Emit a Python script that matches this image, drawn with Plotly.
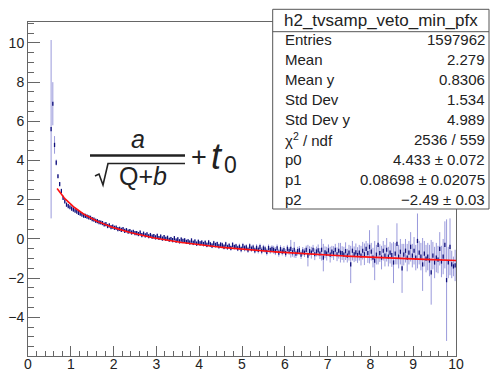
import numpy as np
import plotly.graph_objects as go

# ---------------- data ----------------
BIN_FIRST = 0.54      # first bin centre
BIN_WIDTH = 0.04
Y_VALUES = [
    5.6, 6.9, 4.8, 3.9, 3.2, 2.8, 2.45, 2.1, 1.92, 1.75,
    1.68, 1.62, 1.55, 1.50, 1.44, 1.39, 1.33, 1.29, 1.24, 1.19,
    1.18, 1.14, 1.10, 1.08, 1.01, 0.99, 0.93, 0.91, 0.86, 0.84,
    0.81, 0.74, 0.76, 0.66, 0.69, 0.60, 0.63, 0.57, 0.58, 0.50,
    0.52, 0.46, 0.50, 0.41, 0.45, 0.38, 0.40, 0.33, 0.36, 0.30,
    0.30, 0.25, 0.33, 0.20, 0.27, 0.18, 0.24, 0.14, 0.20, 0.12,
    0.15, 0.08, 0.16, 0.05, 0.12, 0.02, 0.10, 0.01, 0.06, -0.04,
    0.00, -0.06, 0.04, -0.08, -0.02, -0.12, -0.03, -0.10, -0.07, -0.15,
    -0.12, -0.18, -0.08, -0.20, -0.13, -0.24, -0.15, -0.22, -0.18, -0.26,
    -0.20, -0.30, -0.18, -0.28, -0.34, -0.22, -0.31, -0.26, -0.37, -0.29,
    -0.32, -0.40, -0.28, -0.42, -0.35, -0.46, -0.30, -0.41, -0.38, -0.48,
    -0.40, -0.52, -0.36, -0.47, -0.43, -0.55, -0.38, -0.50, -0.44, -0.58,
    -0.45, -0.56, -0.42, -0.60, -0.48, -0.53, -0.66, -0.46, -0.57, -0.50,
    -0.55, -0.62, -0.48, -0.70, -0.52, -0.64, -0.57, -0.72, -0.50, -0.61,
    -0.50, -0.68, -0.55, -0.75, -0.62, -0.58, -0.80, -0.63, -0.70, -0.56,
    -0.85, -0.62, -0.70, -0.55, -0.78, -0.64, -0.58, -0.74, -0.55, -0.95,
    -0.68, -0.75, -0.58, -0.80, -0.65, -0.72, -0.55, -0.78, -0.60, -0.70,
    -0.72, -0.80, -0.62, -0.85, -0.70, -1.30, -0.60, -0.78, -0.68, -0.82,
    -0.70, -0.85, -0.60, -0.78, -0.50, -0.72, -0.40, -0.65, -0.95, -1.10,
    -0.80, -0.30, -0.72, -0.95, -0.60, -0.85, -0.55, -0.90, -0.70, -0.82,
    -1.20, -0.75, -0.25, -0.90, -0.65, -1.50, -0.80, -0.60, -0.95, -0.70,
    -0.40, -0.85, -0.60, -0.95, -0.10, -0.70, -0.90, -1.30, -0.75, -1.00,
    -0.90, -1.10, -1.70, -0.85, -1.20, -0.95, -1.05, -0.50, -1.15, -0.90,
    -0.30, -2.10, -1.20, -0.40, -1.30, -1.40, -1.35,
]
Y_ERRORS = [
    4.55, 1.10, 0.45, 0.15, 0.08, 0.06, 0.05, 0.05, 0.05, 0.05,
    0.05, 0.05, 0.05, 0.05, 0.05, 0.05, 0.05, 0.05, 0.05, 0.05,
    0.06, 0.06, 0.06, 0.06, 0.06, 0.06, 0.06, 0.06, 0.06, 0.06,
    0.07, 0.07, 0.07, 0.07, 0.07, 0.07, 0.07, 0.07, 0.07, 0.07,
    0.08, 0.08, 0.08, 0.08, 0.08, 0.08, 0.08, 0.08, 0.08, 0.08,
    0.09, 0.09, 0.09, 0.09, 0.09, 0.09, 0.09, 0.09, 0.09, 0.09,
    0.10, 0.10, 0.10, 0.10, 0.10, 0.10, 0.10, 0.10, 0.10, 0.10,
    0.11, 0.11, 0.11, 0.11, 0.11, 0.11, 0.11, 0.11, 0.11, 0.11,
    0.12, 0.12, 0.12, 0.12, 0.12, 0.12, 0.12, 0.12, 0.12, 0.12,
    0.13, 0.13, 0.13, 0.13, 0.13, 0.13, 0.13, 0.13, 0.13, 0.13,
    0.14, 0.14, 0.14, 0.14, 0.14, 0.14, 0.14, 0.14, 0.14, 0.14,
    0.16, 0.16, 0.16, 0.16, 0.16, 0.16, 0.16, 0.16, 0.16, 0.16,
    0.18, 0.18, 0.18, 0.18, 0.18, 0.18, 0.18, 0.18, 0.18, 0.18,
    0.20, 0.20, 0.20, 0.20, 0.20, 0.20, 0.20, 0.20, 0.20, 0.20,
    0.45, 0.22, 0.40, 0.22, 0.22, 0.22, 0.22, 0.22, 0.22, 0.22,
    0.55, 0.25, 0.30, 0.25, 0.30, 0.25, 0.30, 0.28, 0.55, 0.70,
    0.30, 0.35, 0.30, 0.40, 0.30, 0.35, 0.30, 0.35, 0.40, 0.50,
    0.35, 0.40, 0.45, 0.35, 0.40, 0.95, 0.50, 0.40, 0.45, 0.40,
    0.40, 0.50, 0.45, 0.55, 0.40, 0.50, 0.85, 0.45, 0.50, 1.00,
    0.50, 1.00, 0.45, 0.60, 0.50, 0.55, 0.60, 0.50, 0.55, 0.60,
    1.05, 0.55, 1.05, 0.60, 0.65, 1.25, 0.55, 0.60, 0.70, 0.60,
    0.75, 0.60, 0.70, 0.65, 1.40, 0.60, 0.70, 1.35, 0.65, 0.70,
    0.70, 0.80, 1.65, 0.70, 0.80, 0.75, 0.70, 0.85, 0.80, 0.90,
    1.20, 3.10, 0.80, 1.45, 0.70, 0.50, 0.80,
]
X_CENTERS = np.round(BIN_FIRST + BIN_WIDTH * np.arange(len(Y_VALUES)), 3)

# fit function a/sqrt(Q+b)+t0 with the parameters of the stats box
P0, P1, P2 = 4.433, 0.08698, -2.49
FIT_RANGE = (0.68, 10.0)

X_TICKS = list(range(0, 11))
Y_TICKS = [-4, -2, 0, 2, 4, 6, 8, 10]

STATS_TITLE = "h2_tvsamp_veto_min_pfx"
STAT_LABELS = ["Entries", "Mean", "Mean y", "Std Dev", "Std Dev y",
               "\u03c7<sup>2</sup> / ndf", "p0", "p1", "p2"]
STAT_VALUES = ["1597962", "2.279", "0.8306", "1.534", "4.989",
               "2536 / 559", "4.433 \u00b1 0.072", "0.08698 \u00b1 0.02075",
               "\u22122.49 \u00b1 0.03"]

# ---------------- geometry (pixels) ----------------
W, H = 497, 372
L, R, T, B = 28, 456, 22, 356
FONT = "Liberation Sans, Arial, Helvetica, sans-serif"
INK = "#222"


def px(x):
    return (x - L) / (R - L)


def py(y):
    return (B - y) / (B - T)


fig = go.Figure()
fig.add_trace(go.Scatter(
    x=X_CENTERS, y=Y_VALUES, mode="markers",
    marker=dict(symbol="line-ns", size=3, color="#10107a",
                line=dict(color="#10107a", width=1.3)),
    error_y=dict(type="data", array=Y_ERRORS, color="rgba(70,70,190,0.55)",
                 thickness=1, width=0),
    hoverinfo="skip",
))

fx = np.linspace(FIT_RANGE[0], FIT_RANGE[1], 400)
fy = P0 / np.sqrt(fx + P1) + P2
fig.add_trace(go.Scatter(x=fx, y=fy, mode="lines",
                         line=dict(color="#ff1010", width=1.6),
                         hoverinfo="skip"))

axis_common = dict(showgrid=False, zeroline=False, showline=True,
                   linecolor="#666", linewidth=1, mirror=True,
                   ticks="inside", tickcolor="#666", tickwidth=1,
                   tickfont=dict(family=FONT, size=14, color=INK),
                   automargin=False)
fig.update_xaxes(range=[0, 10], tickvals=X_TICKS, ticklen=10,
                 ticklabelstandoff=-5,
                 minor=dict(dtick=0.2, tick0=0, ticks="inside", ticklen=5,
                            tickcolor="#666"),
                 **axis_common)
fig.update_yaxes(range=[-5.97, 11.07], tickvals=Y_TICKS, ticklen=12,
                 minor=dict(dtick=0.5, tick0=0, ticks="inside", ticklen=6,
                            tickcolor="#666"),
                 **axis_common)

shapes = []
ann = []


def text(t, x, y, size, anchor="center", family=FONT):
    ann.append(dict(text=t, x=px(x), y=py(y), xref="paper", yref="paper",
                    showarrow=False, xanchor=anchor, yanchor="middle",
                    font=dict(family=family, size=size, color=INK)))


# ---- formula  a / sqrt(Q+b) + t0 ----
shapes.append(dict(type="line", xref="paper", yref="paper",
                   x0=px(90), x1=px(185), y0=py(155.5), y1=py(155.5),
                   line=dict(color=INK, width=2.6)))
# radical sign and its overline
shapes.append(dict(type="path", xref="paper", yref="paper",
                   path="M {},{} L {},{} L {},{} L {},{} L {},{}".format(
                       px(95), py(176), px(99), py(174), px(103), py(185),
                       px(108), py(163.5), px(185), py(163.5)),
                   line=dict(color=INK, width=1.6)))
text("<i>a</i>", 138, 139, 25)
text("Q+<i>b</i>", 143, 176, 25)
text("+", 199, 157, 27)
text("<i>t</i>", 217, 156, 36)
text("0", 230, 165, 23)

# ---- stats box ----
BX0, BX1, BY0, BY1, SEP = 272.7, 489, 9.3, 209, 31.7
shapes.append(dict(type="rect", xref="paper", yref="paper", layer="above",
                   x0=px(BX0), x1=px(BX1), y0=py(BY1), y1=py(BY0),
                   fillcolor="white", line=dict(color="#555", width=1)))
shapes.append(dict(type="line", xref="paper", yref="paper", layer="above",
                   x0=px(BX0), x1=px(BX1), y0=py(SEP), y1=py(SEP),
                   line=dict(color="#555", width=1)))
text(STATS_TITLE, (BX0 + BX1) / 2, 20.5, 17)
for i, (lab, val) in enumerate(zip(STAT_LABELS, STAT_VALUES)):
    yy = 40 + 19.9 * i
    text(lab, 283, yy, 15, anchor="left")
    text(val, 487, yy, 15, anchor="right")

fig.update_layout(width=W, height=H, template="none",
                  margin=dict(l=L, r=W - R, t=T, b=H - B, pad=0,
                              autoexpand=False),
                  paper_bgcolor="white", plot_bgcolor="white",
                  showlegend=False, shapes=shapes, annotations=ann,
                  font=dict(family=FONT))

fig.write_html("out.html", config={"displayModeBar": False},
               post_script="document.body.style.margin='0';"
                           "document.body.style.overflow='hidden';")
